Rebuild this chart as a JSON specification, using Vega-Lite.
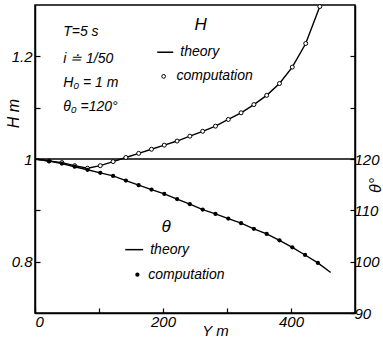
{
  "$schema": "https://vega.github.io/schema/vega-lite/v6.json",
  "width": 320,
  "height": 308,
  "autosize": {"type": "none"},
  "padding": {"left": 35, "top": 5, "right": 28, "bottom": 25},
  "background": "white",
  "config": {
    "view": {"stroke": "black", "strokeWidth": 1.5},
    "font": "Liberation Sans",
    "axis": {
      "grid": false,
      "domainColor": "black",
      "domainWidth": 1.5,
      "tickColor": "black",
      "tickWidth": 1.2,
      "tickSize": -5,
      "labelColor": "black",
      "labelFont": "Liberation Sans",
      "labelFontStyle": "italic",
      "labelFontSize": 15,
      "titleColor": "black",
      "titleFont": "Liberation Sans",
      "titleFontStyle": "italic",
      "titleFontWeight": "normal",
      "titleFontSize": 16
    },
    "text": {"font": "Liberation Sans", "fontStyle": "italic", "fontSize": 14, "color": "black"}
  },
  "datasets": {
    "H": [
      {"Y": 0, "v": 1.0}, {"Y": 22, "v": 0.996}, {"Y": 42, "v": 0.993}, {"Y": 62, "v": 0.987},
      {"Y": 82, "v": 0.982}, {"Y": 102, "v": 0.987}, {"Y": 122, "v": 0.995}, {"Y": 142, "v": 1.003},
      {"Y": 162, "v": 1.011}, {"Y": 182, "v": 1.019}, {"Y": 202, "v": 1.027}, {"Y": 222, "v": 1.035},
      {"Y": 242, "v": 1.0445}, {"Y": 262, "v": 1.054}, {"Y": 282, "v": 1.064}, {"Y": 302, "v": 1.077},
      {"Y": 322, "v": 1.09}, {"Y": 342, "v": 1.106}, {"Y": 362, "v": 1.124}, {"Y": 382, "v": 1.147},
      {"Y": 402, "v": 1.179}, {"Y": 423, "v": 1.225}, {"Y": 445, "v": 1.297}
    ],
    "T": [
      {"Y": 0, "v": 120}, {"Y": 22, "v": 119.6}, {"Y": 42, "v": 119.1}, {"Y": 62, "v": 118.5},
      {"Y": 82, "v": 117.9}, {"Y": 102, "v": 117.3}, {"Y": 122, "v": 116.7}, {"Y": 142, "v": 115.8},
      {"Y": 162, "v": 114.9}, {"Y": 182, "v": 114.05}, {"Y": 202, "v": 113.2}, {"Y": 222, "v": 112.2},
      {"Y": 242, "v": 111.2}, {"Y": 262, "v": 110.15}, {"Y": 282, "v": 109.3}, {"Y": 302, "v": 108.4},
      {"Y": 322, "v": 107.5}, {"Y": 342, "v": 106.4}, {"Y": 362, "v": 105.4}, {"Y": 382, "v": 104.15},
      {"Y": 402, "v": 102.8}, {"Y": 422, "v": 101.3}, {"Y": 442, "v": 99.75}, {"Y": 462, "v": 97.9}
    ]
  },
  "layer": [
    {
      "encoding": {
        "x": {
          "field": "Y", "type": "quantitative",
          "scale": {"domain": [0, 500], "nice": false},
          "axis": {
            "values": [0, 100, 200, 300, 400],
            "labelExpr": "datum.value % 200 == 0 ? datum.label : ''",
            "labelPadding": 6,
            "title": "Y m",
            "titleX": 180,
            "titleY": 17,
            "titleFontSize": 15,
            "titleBaseline": "middle",
            "titleAlign": "center"
          }
        },
        "y": {
          "field": "v", "type": "quantitative",
          "scale": {"domain": [0.7, 1.3], "nice": false, "zero": false},
          "axis": {
            "values": [0.8, 0.9, 1, 1.1, 1.2],
            "labelExpr": "datum.value == 1 ? '1' : (abs(datum.value - 0.8) < 0.001 || abs(datum.value - 1.2) < 0.001 ? format(datum.value, '.1f') : '')",
            "labelPadding": 8,
            "title": "H m",
            "titleAngle": -90,
            "titleX": -22,
            "titleY": 108,
            "titleAlign": "center",
            "titleBaseline": "middle"
          }
        }
      },
      "layer": [
        {"data": {"values": [{"Y": 0, "v": 1}, {"Y": 500, "v": 1}]}, "mark": {"type": "line", "color": "black", "strokeWidth": 1.5}},
        {"data": {"name": "H"}, "mark": {"type": "line", "color": "black", "strokeWidth": 1.4, "clip": true}},
        {"data": {"name": "H"}, "transform": [{"filter": "datum.Y > 0"}], "mark": {"type": "point", "shape": "circle", "filled": true, "fill": "white", "stroke": "black", "strokeWidth": 1, "size": 16, "opacity": 1}},
        {
          "data": {"values": [
            {"Y": 44, "v": 1.247, "t": "T=5 s"},
            {"Y": 44, "v": 1.194, "t": "i ≐ 1/50"},
            {"Y": 44, "v": 1.149, "t": "H₀ = 1 m"},
            {"Y": 44, "v": 1.102, "t": "θ₀ =120°"},
            {"Y": 227, "v": 1.208, "t": "theory"},
            {"Y": 221, "v": 1.161, "t": "computation"},
            {"Y": 180, "v": 0.8234, "t": "theory"},
            {"Y": 177, "v": 0.7746, "t": "computation"}
          ]},
          "mark": {"type": "text", "align": "left", "baseline": "middle", "fontSize": 14},
          "encoding": {"text": {"field": "t", "type": "nominal"}}
        },
        {
          "data": {"values": [
            {"Y": 259, "v": 1.262, "t": "H"},
            {"Y": 205, "v": 0.868, "t": "θ"}
          ]},
          "mark": {"type": "text", "align": "center", "baseline": "middle", "fontSize": 17},
          "encoding": {"text": {"field": "t", "type": "nominal"}}
        },
        {
          "data": {"values": [
            {"Y": 191, "Y2": 216, "v": 1.208},
            {"Y": 141, "Y2": 169, "v": 0.8234}
          ]},
          "mark": {"type": "rule", "color": "black", "strokeWidth": 1.5},
          "encoding": {"x2": {"field": "Y2"}}
        },
        {"data": {"values": [{"Y": 201, "v": 1.161}]}, "mark": {"type": "point", "shape": "circle", "filled": true, "fill": "white", "stroke": "black", "strokeWidth": 1, "size": 14, "opacity": 1}},
        {"data": {"values": [{"Y": 160, "v": 0.7746}]}, "mark": {"type": "point", "shape": "circle", "filled": true, "color": "black", "size": 18, "opacity": 1}}
      ]
    },
    {
      "encoding": {
        "x": {"field": "Y", "type": "quantitative", "scale": {"domain": [0, 500], "nice": false}},
        "y": {
          "field": "v", "type": "quantitative",
          "scale": {"domain": [90, 150], "nice": false, "zero": false},
          "axis": {
            "orient": "right",
            "values": [90, 100, 110, 120, 130, 140],
            "labelExpr": "datum.value <= 120 ? datum.label : ''",
            "labelPadding": 4,
            "title": "θ°",
            "titleAngle": -90,
            "titleX": 20,
            "titleY": 180,
            "titleAlign": "center",
            "titleBaseline": "middle"
          }
        }
      },
      "layer": [
        {"data": {"name": "T"}, "mark": {"type": "line", "color": "black", "strokeWidth": 1.4}},
        {"data": {"name": "T"}, "transform": [{"filter": "datum.Y > 0 && datum.Y < 450"}], "mark": {"type": "point", "shape": "circle", "filled": true, "color": "black", "size": 18, "opacity": 1}}
      ]
    }
  ],
  "resolve": {"scale": {"y": "independent"}}
}
